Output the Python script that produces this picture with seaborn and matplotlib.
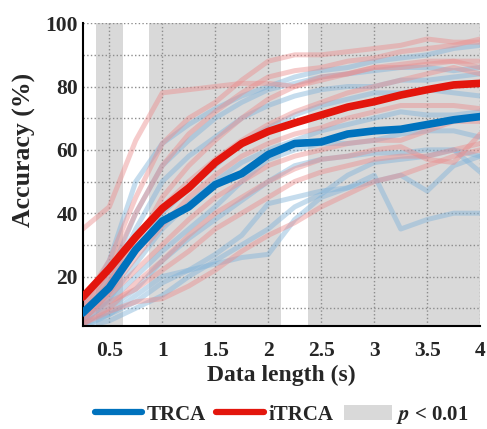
import numpy as np
import pandas as pd
import matplotlib
matplotlib.use('Agg')
import matplotlib.pyplot as plt
import seaborn as sns
from matplotlib.lines import Line2D
from matplotlib.patches import Patch

# data lengths (s)
data_length = [0.25, 0.5, 0.75, 1.0, 1.25, 1.5, 1.75, 2.0,
               2.25, 2.5, 2.75, 3.0, 3.25, 3.5, 3.75, 4.0]

# mean accuracy (%)
trca_mean = [8.5, 16.5, 28.5, 37.5, 42, 49, 52.5, 58.5,
             62, 62.5, 65, 66, 66.5, 68, 69.5, 70.5]
itrca_mean = [13.5, 22.5, 32.5, 41.5, 48, 56, 62, 65.8,
              68.5, 71, 73.5, 75.2, 77.3, 79, 80.5, 81]

# single-subject accuracies (%)
trca_subjects = [
    [10, 25, 50, 62, 68, 73, 77, 80, 83, 85, 86, 88, 89, 90, 92, 93],
    [8, 20, 40, 55, 63, 70, 75, 79, 81, 83, 84, 85, 86, 86, 85, 86],
    [7, 18, 35, 50, 58, 64, 70, 74, 77, 79, 80, 80, 82, 82, 83, 84],
    [6, 15, 28, 40, 48, 55, 62, 67, 71, 74, 76, 78, 78, 79, 78, 77],
    [5, 13, 24, 35, 43, 50, 56, 60, 63, 66, 68, 70, 72, 71, 71, 72],
    [6, 12, 20, 28, 35, 42, 50, 57, 60, 62, 62, 63, 65, 66, 66, 64],
    [5, 10, 16, 25, 32, 38, 44, 50, 55, 57, 58, 59, 59, 60, 60, 58],
    [5, 8, 12, 18, 22, 24, 26, 27, 38, 45, 48, 52, 35, 38, 40, 40],
    [4, 8, 14, 20, 22, 27, 33, 43, 45, 47, 48, 50, 52, 47, 55, 58],
    [4, 6, 10, 14, 20, 25, 30, 35, 42, 46, 52, 56, 57, 58, 60, 53],
]
itrca_subjects = [
    [35, 42, 63, 78, 79, 80, 81, 81, 80, 82, 84, 86, 87, 88, 88, 88],
    [12, 25, 45, 62, 70, 75, 82, 88, 90, 90, 91, 92, 93, 95, 94, 94],
    [10, 22, 40, 55, 65, 72, 78, 83, 85, 86, 88, 89, 91, 92, 93, 95],
    [8, 18, 30, 45, 55, 63, 70, 76, 80, 83, 84, 86, 86, 87, 88, 86],
    [10, 20, 32, 42, 50, 57, 63, 68, 72, 75, 78, 80, 82, 84, 86, 84],
    [6, 15, 26, 36, 45, 52, 58, 62, 65, 67, 70, 72, 74, 74, 74, 73],
    [8, 14, 22, 30, 38, 45, 50, 55, 58, 60, 62, 63, 63, 66, 69, 69],
    [5, 10, 18, 25, 33, 40, 45, 50, 54, 57, 58, 60, 61, 57, 56, 65],
    [7, 12, 16, 22, 28, 35, 40, 45, 50, 53, 55, 57, 58, 58, 60, 62],
    [5, 9, 12, 13, 17, 22, 28, 33, 37, 42, 46, 50, 52, 55, 58, 60],
]

# p < 0.01 at these data lengths
significant = [False, True, False, True, True, True, True, True,
               False, True, True, True, True, True, True, True]

BLUE = '#0072bd'
RED = '#e3160d'
LIGHT_BLUE = '#7fb3d9'
LIGHT_RED = '#eb8c8c'
SHADE = '#d9d9d9'


def long_table(subjects, method):
    rows = []
    for i, acc in enumerate(subjects):
        for x, y in zip(data_length, acc):
            rows.append({'length': x, 'acc': y, 'subject': i, 'method': method})
    return pd.DataFrame(rows)


sns.set_style('white')
plt.rcParams['font.family'] = ['Liberation Serif', 'DejaVu Serif']
plt.rcParams['font.weight'] = 'bold'
plt.rcParams['mathtext.fontset'] = 'stix'

fig = plt.figure(figsize=(4.87, 4.29), dpi=100)
ax = fig.add_axes([0.170, 0.241, 0.816, 0.705])

# shaded significance regions
for x, sig in zip(data_length, significant):
    if sig:
        ax.axvspan(x - 0.125, x + 0.125, color=SHADE, lw=0, zorder=0)

single = pd.concat([long_table(trca_subjects, 'TRCA'),
                    long_table(itrca_subjects, 'iTRCA')])
sns.lineplot(data=single[single['method'] == 'TRCA'], x='length', y='acc',
             units='subject', estimator=None, color=LIGHT_BLUE, alpha=0.45,
             lw=3.6, ax=ax, zorder=2)
sns.lineplot(data=single[single['method'] == 'iTRCA'], x='length', y='acc',
             units='subject', estimator=None, color=LIGHT_RED, alpha=0.45,
             lw=3.6, ax=ax, zorder=2)

means = pd.DataFrame({'length': data_length, 'TRCA': trca_mean, 'iTRCA': itrca_mean})
sns.lineplot(data=means, x='length', y='TRCA', color=BLUE, lw=5.5, ax=ax, zorder=4)
sns.lineplot(data=means, x='length', y='iTRCA', color=RED, lw=5.5, ax=ax, zorder=4)

ax.set_xlim(0.25, 4)
ax.set_ylim(4.5, 100)
ax.set_xticks([0.5, 1, 1.5, 2, 2.5, 3, 3.5, 4])
ax.set_xticklabels(['0.5', '1', '1.5', '2', '2.5', '3', '3.5', '4'])
ax.set_yticks([20, 40, 60, 80, 100])
ax.set_yticks([10, 30, 50, 70, 90], minor=True)
ax.tick_params(axis='both', which='both', direction='in', length=4, width=1.2,
               labelsize=15.5)
ax.tick_params(axis='x', pad=11)
ax.grid(True, which='both', axis='y', color='#8c8c8c', linestyle=':', lw=1)
ax.grid(True, which='major', axis='x', color='#8c8c8c', linestyle=':', lw=1)
ax.set_axisbelow(True)
for t in ax.get_xticklabels() + ax.get_yticklabels():
    t.set_fontweight('bold')

for side in ['top', 'right']:
    ax.spines[side].set_visible(False)
for side in ['left', 'bottom']:
    ax.spines[side].set_color('black')
    ax.spines[side].set_linewidth(1.5)

ax.set_xlabel('Data length (s)', fontsize=17, fontweight='bold', labelpad=3)
ax.set_ylabel('Accuracy (%)', fontsize=18.5, fontweight='bold')
ax.yaxis.set_label_coords(-0.118, 0.58)

handles = [Line2D([], [], color=BLUE, lw=4.5),
           Line2D([], [], color=RED, lw=4.5),
           Patch(facecolor=SHADE, edgecolor='none')]
labels = ['TRCA', 'iTRCA', r'$p$ < 0.01']
fig.legend(handles, labels, loc='lower center', bbox_to_anchor=(0.578, -0.036),
           ncol=3, frameon=False, handlelength=2.3, handletextpad=0.2,
           columnspacing=0.5, prop={'size': 15, 'weight': 'bold'})

fig.savefig('out.png', dpi=100)
